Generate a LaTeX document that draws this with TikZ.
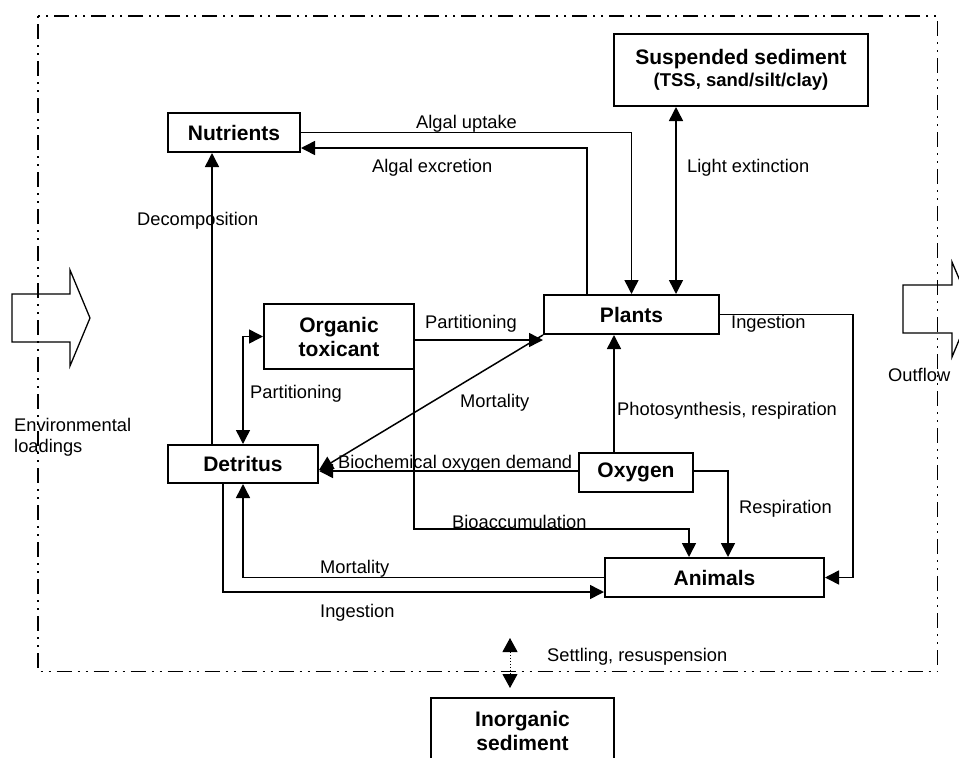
\documentclass[tikz,border=0pt]{standalone}
\usepackage{fontspec}
\setmainfont{Liberation Sans}
\usetikzlibrary{arrows.meta,calc}
\begin{document}
\begin{tikzpicture}[x=1pt,y=-1pt,
  box/.style={draw, line width=2pt, inner sep=0pt, align=center, font=\fontsize{21}{24}\selectfont\bfseries},
  conn/.style={line width=1.5pt},
  arr/.style={conn, -{Triangle[length=14pt,width=14pt]}},
  darr/.style={conn, {Triangle[length=14pt,width=14pt]}-{Triangle[length=14pt,width=14pt]}},
  lbl/.style={anchor=base west, inner sep=0pt, font=\fontsize{18.3}{21}\selectfont},
  bigarrow/.style={draw, line width=1.3pt},
  frame/.style={line width=1.7pt, dash pattern=on 2pt off 6pt on 15pt off 6pt on 2pt off 6pt}
]
\useasboundingbox (0,0) rectangle (959,758);
\clip (0,0) rectangle (959,758);

% big in/out arrows
\draw[bigarrow] (12,294) -- (70,294) -- (70,270) -- (90,318) -- (70,366) -- (70,342) -- (12,342) -- cycle;
\draw[bigarrow] (903,285) -- (952,285) -- (952,262) -- (972,309) -- (952,357) -- (952,333) -- (903,333) -- cycle;

% system boundary
\draw[frame] (38,16) rectangle (937.5,671.5);

% boxes
\node[box, minimum width=132pt, minimum height=39pt] (nut) at (234,132.5) {Nutrients};
\node[box, minimum width=254pt, minimum height=72pt] (sus) at (741,70) {Suspended sediment\\[-2pt]{\fontsize{18.5}{21}\selectfont (TSS, sand/silt/clay)}};
\node[box, minimum width=175pt, minimum height=39pt] (pla) at (631.5,314.5) {Plants};
\node[box, minimum width=150pt, minimum height=65pt] (tox) at (339,336.5) {Organic\\toxicant};
\node[box, minimum width=150pt, minimum height=38pt] (det) at (243,464) {Detritus};
\node[box, minimum width=114pt, minimum height=39pt] (oxy) at (636,472.5) {Oxygen};
\node[box, minimum width=219pt, minimum height=39pt] (ani) at (714.5,577.5) {Animals};
\node[box, minimum width=183pt, minimum height=66pt] (ino) at (522.5,731) {Inorganic\\sediment};

% connectors
\draw[arr] (nut.east) -| (pla.north);
\draw[arr] ([xshift=44pt]pla.north west) |- ([yshift=5pt]nut.south east);
\draw[darr] ([xshift=-65pt]sus.south) -- ([xshift=44.5pt]pla.north);
\draw[arr] ([xshift=-31pt]det.north) -- ([xshift=-22pt]nut.south);
\draw[darr] (tox.west) -| (det.north);
\coordinate (tp) at ([yshift=-3.5pt]tox.east);
\draw[arr] (tp) -- (tp -| pla.west);
\draw[arr] (pla.south west) -- ([yshift=-6pt]det.east);
\coordinate (bo) at ([yshift=1.5pt]oxy.west);
\draw[arr] (bo) -- (bo -| det.east);
\coordinate (po) at ([xshift=-22pt]oxy.north);
\draw[arr] (po) -- (po |- pla.south);
\draw[arr] ([yshift=1.5pt]oxy.east) -| ([xshift=13.5pt]ani.north);
\draw[arr] ([xshift=-1pt]tox.south east) |- ([xshift=-25.5pt,yshift=28pt]ani.north) -- ([xshift=-25.5pt]ani.north);
\draw[arr] (pla.east) -- ++(133,0) |- (ani.east);
\draw[arr] (ani.west) -| (det.south);
\draw[arr] ([xshift=-20pt]det.south) |- ([yshift=-14.5pt]ani.west);
\coordinate (s1) at (510,638);
\coordinate (s2) at (510,688);
\draw[line width=1pt, dotted, {Triangle[length=14pt,width=15pt]}-{Triangle[length=14pt,width=15pt]}] (s1) -- (s2);

% labels
\node[lbl] (l1) at (416,128) {Algal uptake};
\node[lbl] (l2) at (372,172) {Algal excretion};
\node[lbl] (l3) at (687,172) {Light extinction};
\node[lbl] (l4) at (137,225) {Decomposition};
\node[lbl] (l5) at (425,328) {Partitioning};
\node[lbl] (l6) at (731,328) {Ingestion};
\node[lbl] (l7) at (888,381) {Outflow};
\node[lbl] (l8) at (250,398) {Partitioning};
\node[lbl] (l9) at (460,407) {Mortality};
\node[lbl] (l10) at (617,415) {Photosynthesis, respiration};
\node[lbl, anchor=north west, align=left] (l11) at (14,418) {Environmental\\loadings};
\node[lbl] (l12) at (338,468) {Biochemical oxygen demand};
\node[lbl] (l13) at (739,513) {Respiration};
\node[lbl] (l14) at (452,528) {Bioaccumulation};
\node[lbl] (l15) at (320,573) {Mortality};
\node[lbl] (l16) at (320,617) {Ingestion};
\node[lbl] (l17) at (547,661) {Settling, resuspension};
\end{tikzpicture}
\end{document}
